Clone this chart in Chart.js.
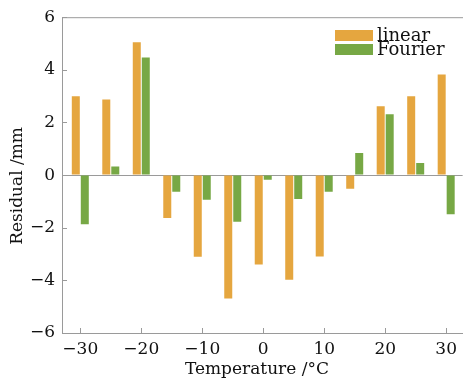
<!DOCTYPE html>
<html>
<head>
<meta charset="utf-8">
<script src="https://cdn.jsdelivr.net/npm/chart.js@4.4.1/dist/chart.umd.min.js"></script>
<style>
  html,body{margin:0;padding:0;background:#fff;overflow:hidden;}
  #wrap{width:463px;height:380px;position:relative;}
</style>
</head>
<body>
<div id="wrap"><canvas id="c"></canvas></div>
<script>
/* residuals vs temperature */
const temps   = [-30,-25,-20,-15,-10,-5,0,5,10,15,20,25,30];
const linear  = [3.0,2.87,5.05,-1.63,-3.1,-4.69,-3.4,-3.98,-3.09,-0.52,2.62,3.0,3.82];
const fourier = [-1.87,0.33,4.47,-0.63,-0.94,-1.77,-0.18,-0.91,-0.63,0.84,2.31,0.46,-1.49];
const xTicks  = [-30,-20,-10,0,10,20,30];
const yTicks  = [-6,-4,-2,0,2,4,6];

const AXIS="#9a9a9a", ORANGE="#e5a63f", GREEN="#77a845";
const FONT="'DejaVu Serif', serif";
const minus=v=>String(v).replace("-","\u2212");

// frame line on top, inward tick marks, legend in the corner
const extras={
  id:"extras",
  afterDatasetsDraw(chart){
    const {ctx,chartArea:a,scales:{x,y}}=chart;
    ctx.save();
    ctx.strokeStyle=AXIS;ctx.lineWidth=1;
    ctx.beginPath();
    ctx.moveTo(a.left,a.top+0.5);ctx.lineTo(a.right+5,a.top+0.5);
    xTicks.forEach(t=>{const px=Math.round(x.getPixelForValue(t))+0.5;ctx.moveTo(px,a.bottom);ctx.lineTo(px,a.bottom-5);});
    yTicks.forEach(t=>{const py=Math.round(y.getPixelForValue(t))+0.5;ctx.moveTo(a.left,py);ctx.lineTo(a.left+5,py);});
    ctx.stroke();
    // legend
    const ds=chart.data.datasets;
    ctx.font="18px "+FONT;ctx.textBaseline="alphabetic";
    ds.forEach((d,i)=>{
      const yy=30+i*14;
      ctx.fillStyle=d.backgroundColor;
      ctx.fillRect(335,yy,38,11);
      ctx.fillStyle="#111";
      ctx.fillText(d.label,377,yy+11);
    });
    ctx.restore();
  }
};

new Chart(document.getElementById("c"),{
  type:"bar",
  data:{datasets:[
    {label:"linear",data:temps.map((t,i)=>({x:t,y:linear[i]})),backgroundColor:ORANGE},
    {label:"Fourier",data:temps.map((t,i)=>({x:t,y:fourier[i]})),backgroundColor:GREEN}
  ]},
  options:{
    responsive:true,maintainAspectRatio:false,animation:false,
    layout:{padding:{top:16,right:0,left:0,bottom:0}},
    categoryPercentage:0.59,barPercentage:0.89,
    plugins:{legend:{display:false},tooltip:{enabled:false}},
    scales:{
      x:{type:"linear",min:-33,max:32.7,offset:false,
        afterBuildTicks:s=>{s.ticks=xTicks.map(v=>({value:v}));},
        afterFit:s=>{s.height=47;},
        grid:{display:false,drawTicks:false,offset:false},
        border:{display:true,color:AXIS,width:1},
        ticks:{color:"#111",font:{family:FONT,size:17},padding:6,maxRotation:0,callback:v=>minus(v)},
        title:{display:true,text:"Temperature /\u00b0C  ",color:"#111",font:{family:FONT,size:17},padding:{top:0,bottom:0}}
      },
      y:{min:-6,max:6,
        afterBuildTicks:s=>{s.ticks=yTicks.map(v=>({value:v}));},
        afterFit:s=>{s.width=62;},
        grid:{drawTicks:false,color:c=>c.tick&&c.tick.value===0?AXIS:"rgba(0,0,0,0)"},
        border:{display:true,color:AXIS,width:1},
        ticks:{color:"#111",font:{family:FONT,size:17},padding:7,callback:v=>minus(v)},
        title:{display:true,text:"Residual /mm    ",color:"#111",font:{family:FONT,size:17},padding:{top:7,bottom:0}}
      }
    }
  },
  plugins:[extras]
});
</script>
</body>
</html>
